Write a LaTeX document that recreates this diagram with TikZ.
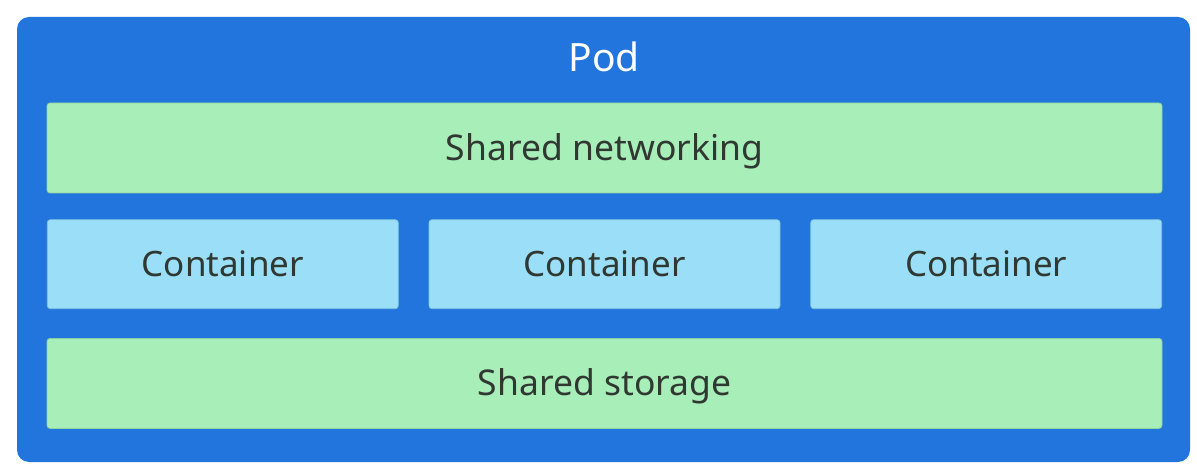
\documentclass[tikz,border=0pt]{standalone}
\usepackage{fontspec}
\setmainfont{Noto Sans}
\usetikzlibrary{positioning}
\definecolor{podblue}{HTML}{2275DD}
\definecolor{sharegreen}{HTML}{A8EEB8}
\definecolor{sharegreenline}{HTML}{8FD3A0}
\definecolor{contblue}{HTML}{9ADEF7}
\definecolor{contblueline}{HTML}{80C4DE}
\definecolor{labelgray}{HTML}{303832}

\tikzset{
	sharedbox/.style={draw=sharegreenline, fill=sharegreen, line width=0.7pt, rounded corners=3pt,
		minimum width=1115pt, minimum height=90pt, inner sep=0pt, text height=25pt, text depth=0pt,
		text=labelgray, font=\fontsize{35.5}{42}\selectfont},
	contbox/.style={draw=contblueline, fill=contblue, line width=0.7pt, rounded corners=3pt,
		minimum width=351pt, minimum height=89pt, inner sep=0pt, text height=25pt, text depth=0pt,
		text=labelgray, font=\fontsize{35}{42}\selectfont},
}

\begin{document}
\begin{tikzpicture}[x=1pt, y=-1pt]
		%%%%% FRAME %%%%%
		\useasboundingbox (0, 0) rectangle (1197, 470);
		\fill[white] (0, 0) rectangle (1197, 470);
		
		\node[fill=podblue, rounded corners=12pt, minimum width=1173pt, minimum height=445pt, inner sep=0pt] (pod) at (603.5, 239.5) {};
		\node[anchor=base, text=white, font=\fontsize{39}{46}\selectfont] (podlabel) at (604, 72) {Pod};
		
		%%%%% LAYERS %%%%%
		\node[sharedbox] (net) at (604.5, 148) {Shared networking};
		
		\node[contbox, below=26pt of net] (cont2) {Container};
		\node[contbox, left=30pt of cont2] (cont1) {Container};
		\node[contbox, right=30pt of cont2] (cont3) {Container};
		
		\node[sharedbox, below=29pt of cont2] (storage) {Shared storage};
	\end{tikzpicture}
\end{document}
